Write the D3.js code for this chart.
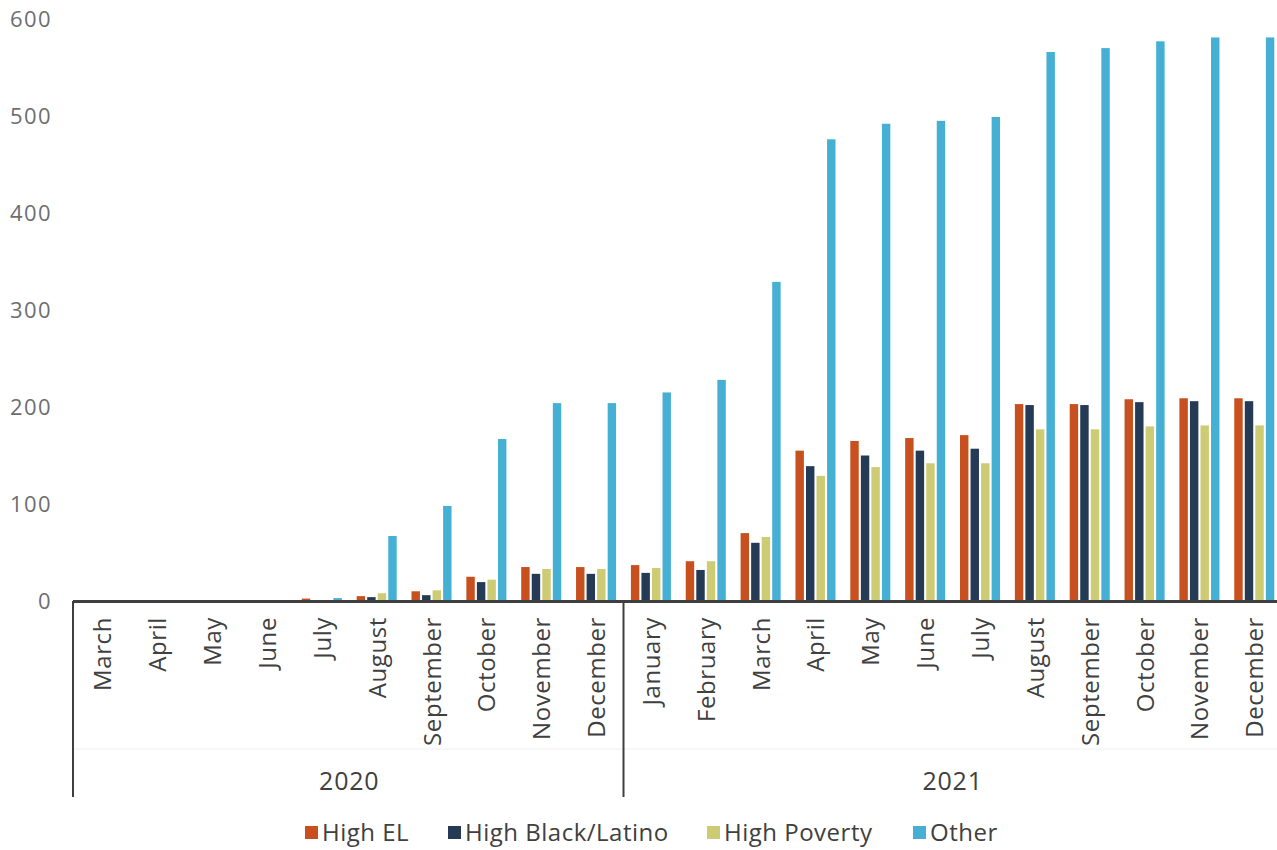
<!DOCTYPE html>
<html>
<head>
<meta charset="utf-8">
<script src="https://cdn.jsdelivr.net/npm/d3@7"></script>
<style>
  body { margin: 0; background: #fff; }
  svg { display: block; font-family: "Open Sans", Lato, sans-serif; }
</style>
</head>
<body>
<div id="chart"></div>
<script>
// data
const months = ['March', 'April', 'May', 'June', 'July', 'August', 'September', 'October', 'November', 'December',
  'January', 'February', 'March', 'April', 'May', 'June', 'July', 'August', 'September', 'October', 'November', 'December'];
const years = [{ label: '2020', count: 10 }, { label: '2021', count: 12 }];
const seriesNames = ['High EL', 'High Black/Latino', 'High Poverty', 'Other'];
const seriesColors = ['#c8501e', '#253a55', '#cdcb74', '#46b0d4'];

const highEL = [0, 0, 1, 1, 2.5, 5, 10, 25, 35, 35, 37, 41, 70, 155, 165, 168, 171, 203, 203, 208, 209, 209];
const highBlackLatino = [0, 0, 0, 0, 1, 4, 6, 19.5, 28, 28, 29, 32, 60, 139, 150, 155, 157, 202, 202, 205, 206, 206];
const highPoverty = [0, 0, 0, 0, 0.5, 8, 11, 22, 33, 33, 34, 41, 66, 129, 138, 142, 142, 177, 177, 180, 181, 181];
const other = [0, 0, 1, 1, 3, 67, 98, 167, 204, 204, 215, 228, 329, 476, 492, 495, 499, 566, 570, 577, 581, 581];
const yTicks = [0, 100, 200, 300, 400, 500, 600];

const seriesValues = [highEL, highBlackLatino, highPoverty, other];

const W = 1277, H = 850;
const plotLeft = 75, bandW = 54.85;
const plotTop = 19, plotBottom = 601;

const svg = d3.select('#chart').append('svg')
  .attr('width', W)
  .attr('height', H);

const idx = months.map((m, i) => i);

const x = d3.scaleBand()
  .domain(idx)
  .range([plotLeft, plotLeft + bandW * months.length])
  .paddingInner(0.27)
  .paddingOuter(0.135);

const xs = d3.scaleBand()
  .domain(d3.range(seriesNames.length))
  .range([0, x.bandwidth()])
  .paddingInner(0.2);

const y = d3.scaleLinear()
  .domain([0, 600])
  .range([plotBottom, plotTop]);

// y axis labels only
svg.append('g')
  .attr('transform', `translate(52,0)`)
  .call(d3.axisLeft(y).tickValues(yTicks).tickSize(0).tickPadding(0))
  .call(g => g.select('.domain').remove())
  .call(g => g.selectAll('text')
    .attr('fill', '#6d6e71')
    .style('font-size', '22px')
    .style('letter-spacing', '1.4px')
    .style('font-family', '"Open Sans", sans-serif'));

// bars
const groups = svg.append('g').selectAll('g')
  .data(seriesValues)
  .join('g')
  .attr('fill', (d, i) => seriesColors[i]);

groups.each(function (vals, s) {
  d3.select(this).selectAll('rect')
    .data(vals)
    .join('rect')
    .attr('x', (d, i) => x(i) + xs(s))
    .attr('width', xs.bandwidth())
    .attr('y', d => y(d))
    .attr('height', d => y(0) - y(d));
});

// x axis: baseline and category dividers
const axisCol = '#3f3f3f';
svg.append('line')
  .attr('x1', plotLeft - 2).attr('x2', W)
  .attr('y1', plotBottom + 0.5).attr('y2', plotBottom + 0.5)
  .attr('stroke', axisCol).attr('stroke-width', 3);

svg.append('line')
  .attr('x1', plotLeft - 2).attr('x2', W)
  .attr('y1', 749).attr('y2', 749)
  .attr('stroke', '#f0f0f0').attr('stroke-width', 1);

let acc = 0;
const yearBounds = [0];
years.forEach(yr => { acc += yr.count; yearBounds.push(acc); });

yearBounds.forEach(b => {
  const xp = plotLeft + bandW * b - (b === 0 ? 2 : 0);
  svg.append('line')
    .attr('x1', xp).attr('x2', xp)
    .attr('y1', plotBottom).attr('y2', 797)
    .attr('stroke', axisCol).attr('stroke-width', 2);
});

// month labels
svg.append('g').selectAll('text')
  .data(months)
  .join('text')
  .attr('transform', (d, i) => `translate(${x(i) + x.bandwidth() / 2 + 9},617) rotate(-90)`)
  .attr('text-anchor', 'end')
  .attr('fill', '#404040')
  .style('font-size', '24px')
  .style('letter-spacing', '0.6px')
  .text(d => d);

// year labels
svg.append('g').selectAll('text')
  .data(years)
  .join('text')
  .attr('x', (d, i) => plotLeft + bandW * (yearBounds[i] + d.count / 2))
  .attr('y', 790)
  .attr('text-anchor', 'middle')
  .attr('fill', '#404040')
  .style('font-size', '25px')
  .style('letter-spacing', '0.8px')
  .text(d => d.label);

// legend
const legendX = [305, 448, 707, 913];
const legend = svg.append('g').selectAll('g')
  .data(seriesNames)
  .join('g')
  .attr('transform', (d, i) => `translate(${legendX[i]},826)`);

legend.append('rect')
  .attr('width', 13).attr('height', 13)
  .attr('fill', (d, i) => seriesColors[i]);

legend.append('text')
  .attr('x', 17)
  .attr('y', 15)
  .attr('fill', '#404040')
  .style('font-size', '24px')
  .style('letter-spacing', '0.5px')
  .text(d => d);
</script>
</body>
</html>
